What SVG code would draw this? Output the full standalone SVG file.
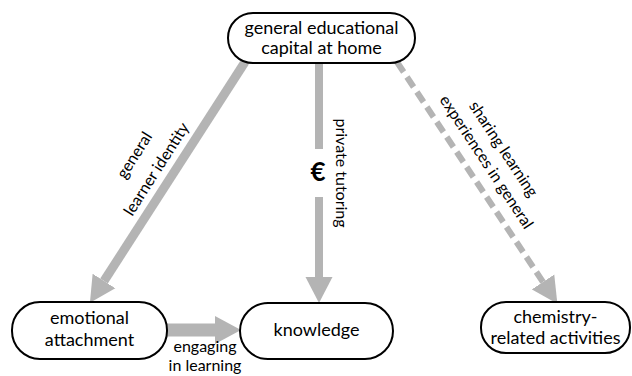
<svg xmlns="http://www.w3.org/2000/svg" width="632" height="376" viewBox="0 0 632 376">
<defs>
<style>
.node rect{fill:#fff;stroke:#000;stroke-width:2}
.t{font-family:Lato,"Open Sans","Liberation Sans",sans-serif;font-size:18px;fill:#000;text-anchor:middle}
.lab{font-family:Lato,"Open Sans","Liberation Sans",sans-serif;font-size:16px;fill:#000;text-anchor:middle}
.c{stroke:#b4b4b4;fill:none}
</style>
<marker id="ah" markerUnits="userSpaceOnUse" markerWidth="26" markerHeight="28" refX="0" refY="13.5" orient="auto" viewBox="0 0 26 27">
<path d="M0,0 L26,13.5 L0,27 z" fill="#b4b4b4"/>
</marker>
<marker id="ahw" markerUnits="userSpaceOnUse" markerWidth="26" markerHeight="29" refX="0" refY="14" orient="auto" viewBox="0 0 26 28">
<path d="M0,0 L26,14 L0,28 z" fill="#b4b4b4"/>
</marker>
</defs>
<rect width="632" height="376" fill="#fff"/>
<g id="connectors">
<line class="c" x1="245" y1="62" x2="104" y2="281" stroke-width="9" marker-end="url(#ah)"/>
<line class="c" x1="319" y1="63" x2="319" y2="149" stroke-width="8"/>
<line class="c" x1="319" y1="197" x2="319" y2="277" stroke-width="8" marker-end="url(#ah)"/>
<line class="c" x1="397" y1="62" x2="543" y2="282" stroke-width="6" stroke-dasharray="12 6" marker-end="url(#ah)"/>
<line class="c" x1="167" y1="330" x2="215" y2="330" stroke-width="13" marker-end="url(#ahw)"/>
<text x="318" y="181" font-family="Lato,'Liberation Sans',sans-serif" font-size="26" font-weight="bold" text-anchor="middle">€</text>
<text class="lab" transform="translate(139,158) rotate(-57.4)">general</text>
<text class="lab" transform="translate(161,172) rotate(-57.4)">learner identity</text>
<text class="lab" transform="translate(336,173) rotate(90)">private tutoring</text>
<text class="lab" transform="translate(499,152) rotate(56.6)">sharing learning</text>
<text class="lab" transform="translate(482,165) rotate(56.6)">experiences in general</text>
<text class="lab" x="205" y="352">engaging</text>
<text class="lab" x="205" y="371">in learning</text>
</g>
<g id="home" class="node">
<rect x="228" y="13" width="187" height="50" rx="25"/>
<text class="t" x="321.5" y="34">general educational</text>
<text class="t" x="321.5" y="54">capital at home</text>
</g>
<g id="emotional" class="node">
<rect x="12" y="302" width="155" height="57" rx="28"/>
<text class="t" x="89.5" y="324">emotional</text>
<text class="t" x="89.5" y="346">attachment</text>
</g>
<g id="knowledge" class="node">
<rect x="240" y="303" width="153" height="56" rx="28"/>
<text class="t" x="316.5" y="336">knowledge</text>
</g>
<g id="chemistry" class="node">
<rect x="481" y="302" width="149" height="51" rx="25"/>
<text class="t" x="555.5" y="323">chemistry-</text>
<text class="t" x="555.5" y="344">related activities</text>
</g>
</svg>
